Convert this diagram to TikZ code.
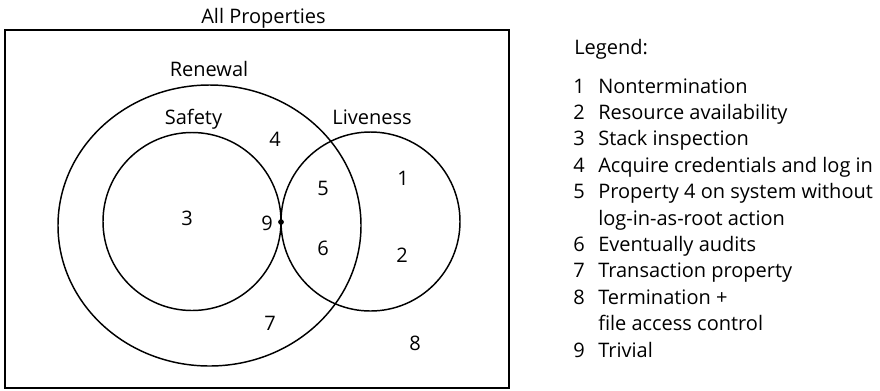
\documentclass[tikz,border=0pt]{standalone}
\usepackage{fontspec}
\setmainfont{Open Sans}
\usetikzlibrary{shapes.geometric}
\begin{document}
\begin{tikzpicture}[x=0.75pt,y=-0.75pt,
  every node/.style={font=\fontsize{15pt}{18pt}\selectfont},
  txt/.style={inner sep=0pt,anchor=base},
  num/.style={inner sep=0pt,anchor=center},
  legnum/.style={inner sep=0pt,anchor=base west},
  legtxt/.style={inner sep=0pt,anchor=base west},
  setc/.style={draw,line width=1.1pt,inner sep=0pt,outer sep=0pt}]
\useasboundingbox (0,0) rectangle (880,390);
% frame
\node[draw,line width=1.4pt,inner sep=0pt,outer sep=0pt,minimum width=378pt,minimum height=268.5pt] (all) at (257,209) {};
\node[txt] (allt) at (263.5,23) {All Properties};
% sets
\node[setc,ellipse,minimum width=227.25pt,minimum height=210.75pt] (ren) at (209.5,225.5) {};
\node[setc,circle,minimum size=133.5pt] (saf) at (192,221.5) {};
\node[setc,circle,minimum size=134.25pt] (liv) at (370.5,221.5) {};
\node[txt] (rent) at (209,76) {Renewal};
\node[txt] (saft) at (193.5,124) {Safety};
\node[txt] (livt) at (372,124) {Liveness};
% dot
\node[circle,fill,inner sep=0pt,minimum size=4.3pt] (dot) at (281,222) {};
% region numbers
\node[num] (r4) at (275,139) {4};
\node[num] (r5) at (323,188) {5};
\node[num] (r1) at (403,178) {1};
\node[num] (r3) at (187,218) {3};
\node[num] (r9) at (267,223) {9};
\node[num] (r6) at (323,248) {6};
\node[num] (r2) at (402,255) {2};
\node[num] (r7) at (270,323) {7};
\node[num] (r8) at (415,343) {8};
% legend
\node[legtxt] (leg) at (574,54) {Legend:};
\node[legnum] (n1) at (573,93) {1};   \node[legtxt] (t1) at (598,93) {Nontermination};
\node[legnum] (n2) at (573,119.4) {2}; \node[legtxt] (t2) at (598,119.4) {Resource availability};
\node[legnum] (n3) at (573,145.8) {3}; \node[legtxt] (t3) at (598,145.8) {Stack inspection};
\node[legnum] (n4) at (573,172.2) {4}; \node[legtxt] (t4) at (598,172.2) {Acquire credentials and log in};
\node[legnum] (n5) at (573,198.6) {5}; \node[legtxt] (t5) at (598,198.6) {Property 4 on system without};
\node[legtxt] (t5b) at (598,225) {log-in-as-root action};
\node[legnum] (n6) at (573,251.4) {6}; \node[legtxt] (t6) at (598,251.4) {Eventually audits};
\node[legnum] (n7) at (573,277.8) {7}; \node[legtxt] (t7) at (598,277.8) {Transaction property};
\node[legnum] (n8) at (573,304.2) {8}; \node[legtxt] (t8) at (598,304.2) {Termination +};
\node[legtxt] (t8b) at (598,330.6) {file access control};
\node[legnum] (n9) at (573,357) {9}; \node[legtxt] (t9) at (598,357) {Trivial};
\end{tikzpicture}
\end{document}
